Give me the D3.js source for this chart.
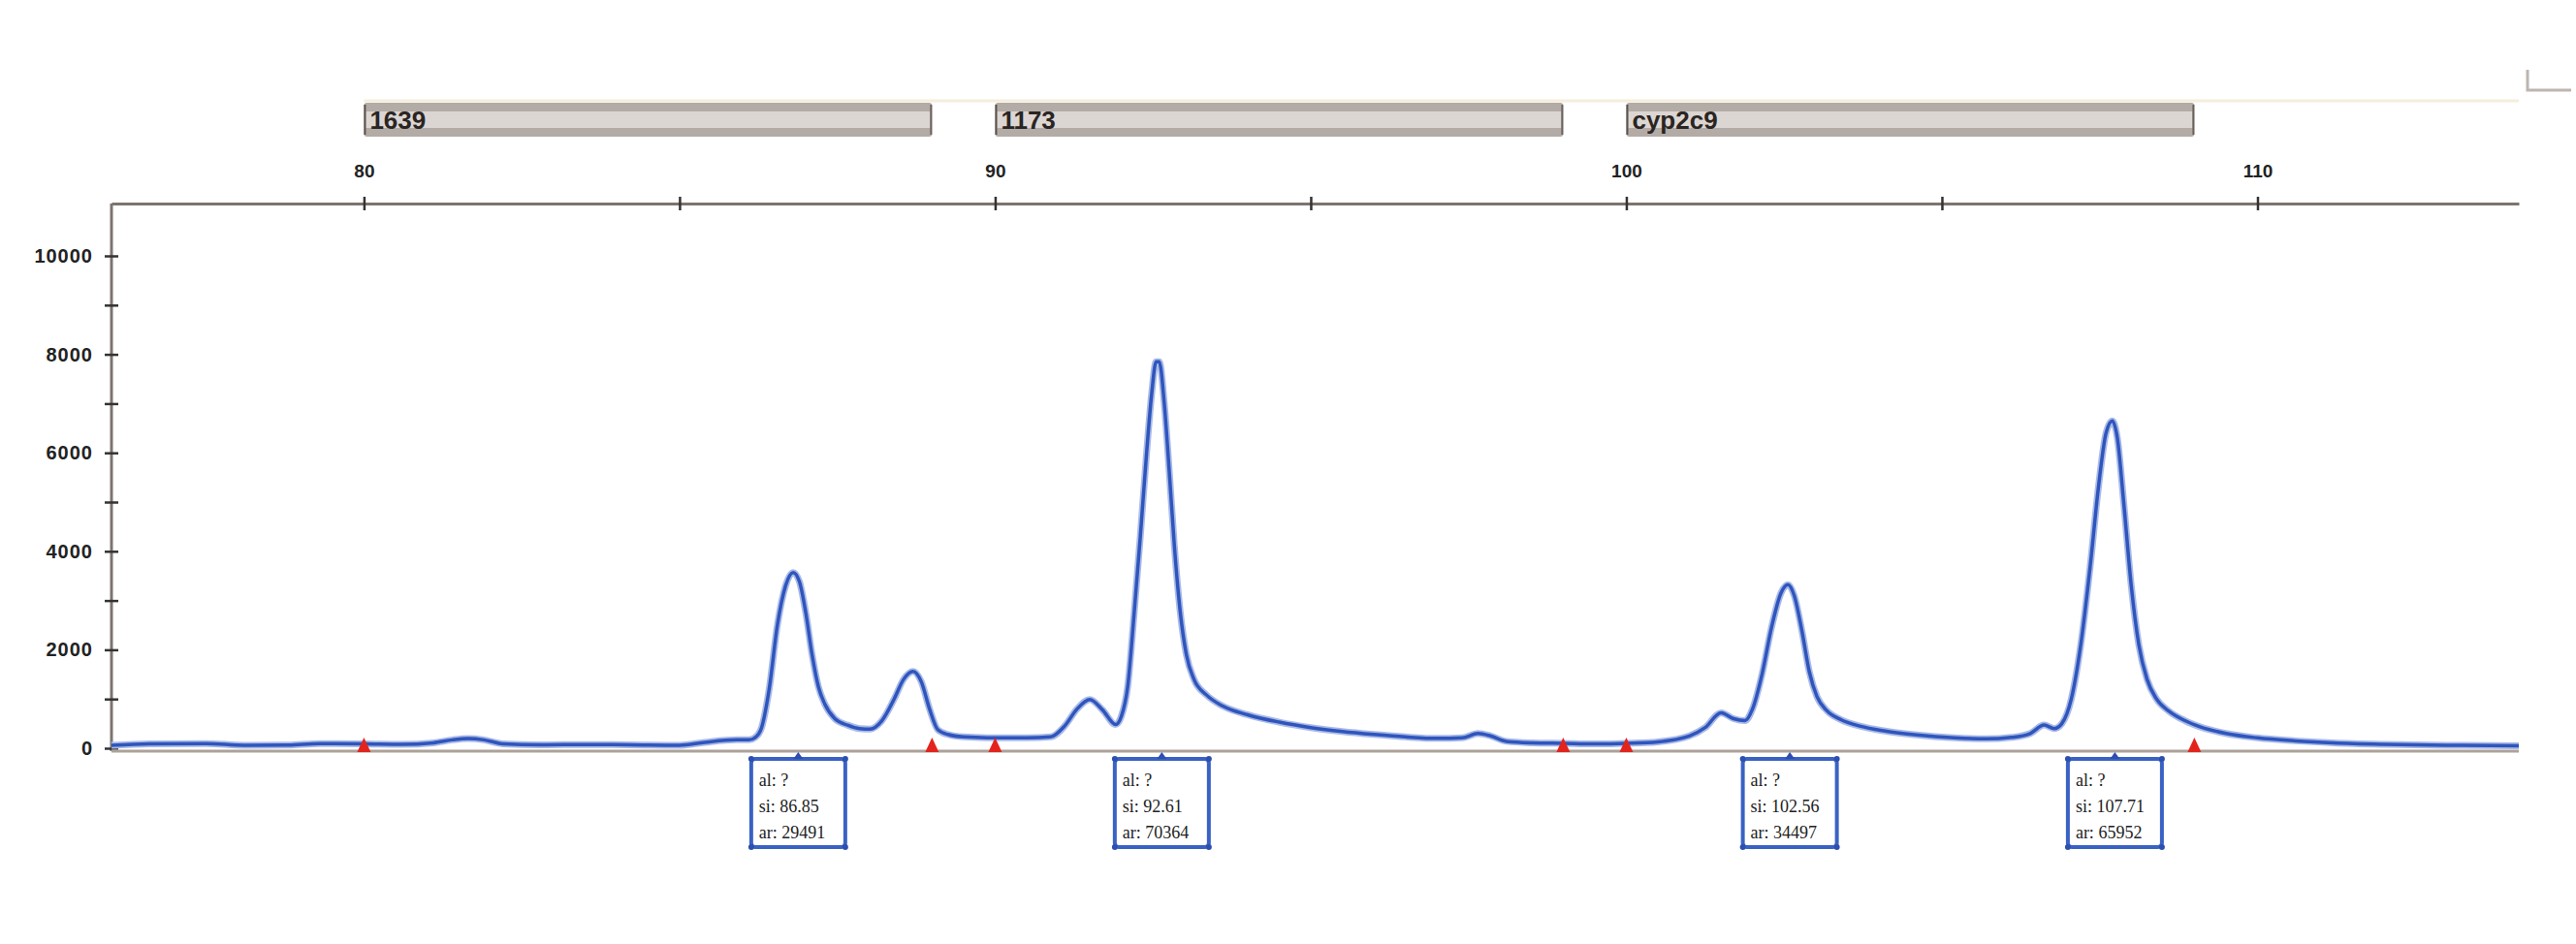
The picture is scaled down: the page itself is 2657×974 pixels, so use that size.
<!DOCTYPE html>
<html><head><meta charset="utf-8">
<script src="https://cdn.jsdelivr.net/npm/d3@7"></script>
<style>body{margin:0;background:#fff;} svg{display:block}</style>
</head><body>
<svg id="chart" width="2657" height="974"></svg>
<script>
// ---------- data ----------
const binNames  = ["1639", "1173", "cyp2c9"];
const binStarts = [80, 90, 100];
const binEnds   = [89, 99, 109];

const xTicks      = [80, 85, 90, 95, 100, 105, 110];
const xTickLabels = ["80", "", "90", "", "100", "", "110"];
const yTicks      = [0, 1000, 2000, 3000, 4000, 5000, 6000, 7000, 8000, 9000, 10000];
const yTickLabels = ["0", "", "2000", "", "4000", "", "6000", "", "8000", "", "10000"];

const peakAlleles = ["?", "?", "?", "?"];
const peakSizes   = [86.85, 92.61, 102.56, 107.71];
const peakAreas   = [29491, 70364, 34497, 65952];

const traceSize = [
  76.0, 76.6, 77.5, 78.1, 78.8, 79.3, 80.0, 80.6, 81.1, 81.4, 81.65, 81.9, 82.2, 82.8, 83.5, 84.2, 85.0, 85.4, 85.9, 86.1,
  86.2, 86.3, 86.42, 86.55, 86.68, 86.8, 86.9, 87.0, 87.1, 87.2, 87.3, 87.46, 87.66, 87.85, 88.02, 88.2, 88.4, 88.55, 88.7, 88.83,
  88.96, 89.09, 89.25, 89.5, 90.0, 90.5, 90.88, 91.1, 91.3, 91.5, 91.7, 91.91, 92.0, 92.1, 92.2, 92.3, 92.4, 92.48, 92.55, 92.6,
  92.68, 92.76, 92.84, 92.93, 93.03, 93.15, 93.35, 93.6, 94.0, 94.5, 95.0, 95.5, 96.0, 96.5, 97.0, 97.4, 97.65, 97.85, 98.1, 98.5,
  99.0, 99.5, 100.0, 100.5, 101.0, 101.25, 101.5, 101.7, 101.88, 102.0, 102.15, 102.3, 102.45, 102.56, 102.66, 102.78, 102.9, 103.02, 103.18, 103.4,
  103.7, 104.1, 104.6, 105.2, 105.7, 106.1, 106.4, 106.62, 106.78, 106.9, 107.05, 107.2, 107.35, 107.48, 107.6, 107.7, 107.78, 107.88, 108.0, 108.12,
  108.25, 108.4, 108.6, 108.85, 109.1, 109.5, 110.0, 110.6, 111.2, 112.0, 113.0, 114.14
];
const traceRFU = [
  60, 90, 95, 60, 65, 95, 90, 80, 110, 170, 195, 170, 90, 70, 75, 70, 60, 120, 170, 170,
  220, 420, 1200, 2500, 3300, 3570, 3380, 2750, 1900, 1250, 900, 600, 470, 400, 390, 550, 1000, 1400, 1560, 1350,
  800, 380, 280, 230, 210, 210, 230, 450, 800, 990, 780, 480, 650, 1250, 2700, 4300, 6000, 7200, 7850, 7850,
  7000, 5600, 4100, 2800, 1900, 1400, 1080, 860, 680, 530, 420, 340, 280, 230, 200, 210, 300, 250, 140, 110,
  100, 90, 100, 130, 250, 420, 720, 600, 560, 800, 1500, 2450, 3150, 3320, 3100, 2400, 1550, 1050, 760, 580,
  450, 350, 270, 210, 190, 220, 300, 470, 400, 500, 1000, 2100, 3700, 5300, 6400, 6650, 6300, 5000, 3300, 2100,
  1400, 1000, 750, 560, 430, 300, 210, 150, 110, 80, 60, 50
];

// ---------- layout ----------
const svg = d3.select("#chart");
const x = d3.scaleLinear().domain([76, 114.14]).range([115, 2598]);
const y = d3.scaleLinear().domain([0, 11063]).range([772, 210]);
const axisColor = "#7d746f";

// faint line behind bin bars
svg.append("line").attr("x1", x(80)).attr("x2", x.range()[1]).attr("y1", 104).attr("y2", 104)
  .attr("stroke", "#f4eedd").attr("stroke-width", 3);

// corner mark
svg.append("path").attr("d", "M2607,72 V93 H2652").attr("fill", "none")
  .attr("stroke", "#bdb5af").attr("stroke-width", 3);

// bin bars
const bins = binNames.map((n, i) => ({name: n, s: binStarts[i], e: binEnds[i]}));
const bg = svg.append("g").selectAll("g").data(bins).join("g");
bg.append("rect").attr("x", d => x(d.s)).attr("y", 106).attr("width", d => x(d.e) - x(d.s)).attr("height", 35)
  .attr("rx", 3).attr("fill", "#b3aba6");
bg.append("rect").attr("x", d => x(d.s) + 2).attr("y", 115).attr("width", d => x(d.e) - x(d.s) - 4).attr("height", 17)
  .attr("fill", "#dcd6d3");
bg.append("line").attr("x1", d => x(d.s) + 1).attr("x2", d => x(d.s) + 1).attr("y1", 108).attr("y2", 139)
  .attr("stroke", "#5a524d").attr("stroke-width", 2);
bg.append("line").attr("x1", d => x(d.e) - 1).attr("x2", d => x(d.e) - 1).attr("y1", 108).attr("y2", 139)
  .attr("stroke", "#6a625d").attr("stroke-width", 2);
bg.append("text").attr("x", d => x(d.s) + 6).attr("y", 133).text(d => d.name)
  .attr("font-family", "Arial, 'Liberation Sans', sans-serif").attr("font-weight", "bold")
  .attr("font-size", 26).attr("fill", "#2a2522");

// top x axis
const xAxis = d3.axisTop(x).tickValues(xTicks).tickFormat((d, i) => xTickLabels[i]).tickSizeInner(7).tickSizeOuter(0).tickPadding(20);
const gx = svg.append("g").attr("transform", `translate(0,${y.range()[1]})`).call(xAxis);
gx.select(".domain").attr("stroke", axisColor).attr("stroke-width", 3);
gx.selectAll(".tick line").attr("y1", 7).attr("y2", -7).attr("stroke", "#333").attr("stroke-width", 2.5);
gx.selectAll(".tick text").attr("font-family", "Arial, 'Liberation Sans', sans-serif").attr("font-weight", "bold")
  .attr("font-size", 19).attr("fill", "#222");

// left y axis
const yAxis = d3.axisLeft(y).tickValues(yTicks).tickFormat((d, i) => yTickLabels[i]).tickSizeInner(7).tickSizeOuter(0).tickPadding(12);
const gy = svg.append("g").attr("transform", `translate(${x.range()[0]},0)`).call(yAxis);
gy.select(".domain").attr("stroke", axisColor).attr("stroke-width", 3)
  .attr("d", `M0,${y.range()[1]}V${y(0) + 3}`);
gy.selectAll(".tick line").attr("x1", -7).attr("x2", 7).attr("stroke", "#333").attr("stroke-width", 2.5);
gy.selectAll(".tick text").attr("font-family", "Arial, 'Liberation Sans', sans-serif").attr("font-weight", "bold")
  .attr("font-size", 20).attr("letter-spacing", 1).attr("fill", "#222");

// bottom baseline line
const baseY = y(0) + 3;
svg.append("line").attr("x1", x.range()[0]).attr("x2", x.range()[1]).attr("y1", baseY).attr("y2", baseY)
  .attr("stroke", "#ada29a").attr("stroke-width", 3);

// trace
const trace = traceSize.map((s, i) => [s, traceRFU[i]]);
const line = d3.line().x(d => x(d[0])).y(d => y(d[1])).curve(d3.curveMonotoneX);
svg.append("path").datum(trace).attr("d", line).attr("fill", "none")
  .attr("stroke", "#a9bae6").attr("stroke-width", 7).attr("stroke-linejoin", "round");
svg.append("path").datum(trace).attr("d", line).attr("fill", "none")
  .attr("stroke", "#2f55bd").attr("stroke-width", 3.5).attr("stroke-linejoin", "round");

// bin edge markers (red triangles)
const edges = [];
bins.forEach(b => { edges.push(b.s); edges.push(b.e); });
svg.append("g").selectAll("path").data(edges).join("path")
  .attr("d", d => `M${x(d) - 7},${baseY + 1} L${x(d)},${baseY - 14} L${x(d) + 7},${baseY + 1} Z`)
  .attr("fill", "#e3241d");

// peak labels
const peaks = peakSizes.map((s, i) => ({s, a: peakAlleles[i], ar: peakAreas[i]}));
const pg = svg.append("g").selectAll("g").data(peaks).join("g");
const boxTop = 783, boxH = 91;
pg.each(function(d) {
  const g = d3.select(this);
  const cx = x(d.s) + 2;
  const lines = ["al: " + d.a, "si: " + d.s.toFixed(2), "ar: " + d.ar];
  const t = g.append("g");
  lines.forEach((l, k) => {
    t.append("text").attr("y", boxTop + 28 + k * 27).text(l)
      .attr("font-family", "'Liberation Serif', 'Times New Roman', serif").attr("font-size", 18).attr("fill", "#222");
  });
  let w = 0;
  t.selectAll("text").each(function() { w = Math.max(w, this.getComputedTextLength()); });
  const bw = Math.max(97, w + 18);
  const left = cx - bw / 2;
  t.selectAll("text").attr("x", left + 8);
  g.insert("rect", ":first-child").attr("x", left).attr("y", boxTop).attr("width", bw).attr("height", boxH)
    .attr("rx", 4).attr("fill", "#fff").attr("stroke", "#3a62c4").attr("stroke-width", 4);
  g.append("path").attr("d", `M${cx - 5},${boxTop} L${cx},${boxTop - 7} L${cx + 5},${boxTop} Z`).attr("fill", "#2c4fb0");
  [[left, boxTop], [left + bw, boxTop], [left, boxTop + boxH], [left + bw, boxTop + boxH]].forEach(p => {
    g.append("circle").attr("cx", p[0]).attr("cy", p[1]).attr("r", 3).attr("fill", "#2c4fb0");
  });
});
</script>
</body></html>
